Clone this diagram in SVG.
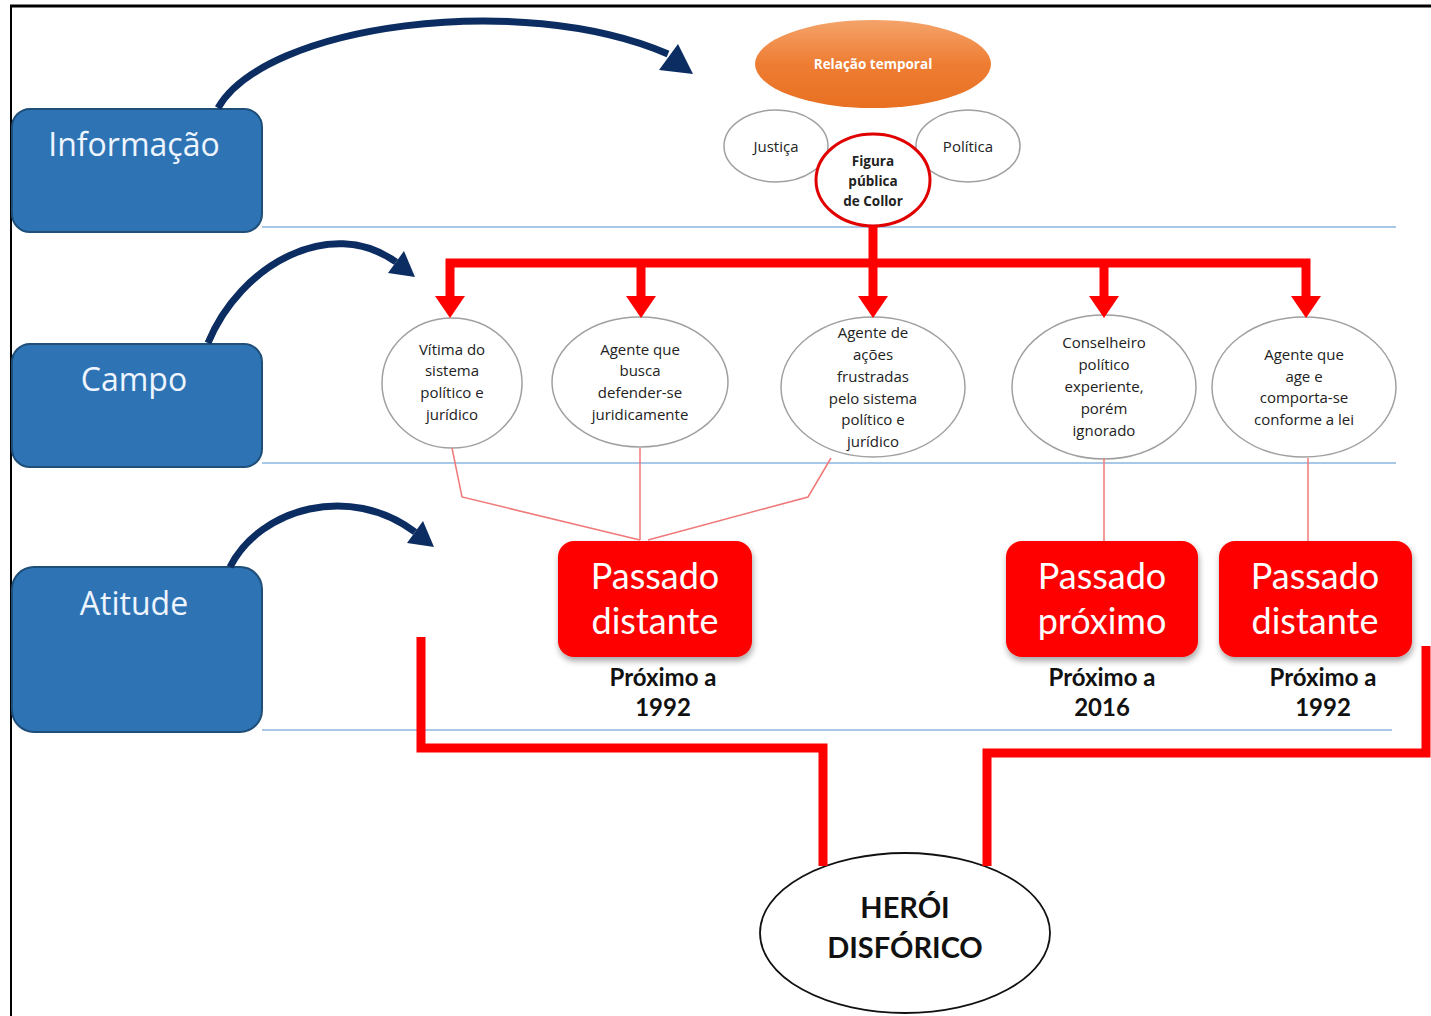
<svg xmlns="http://www.w3.org/2000/svg" width="1431" height="1016" viewBox="0 0 1431 1016">
<defs>
<style>
.lvl{fill:#2e74b5;stroke:#1f4e79;stroke-width:2}
.lvlt{font-family:"Open Sans",Lato,sans-serif;font-size:32px;fill:#eef5ff;text-anchor:middle}
.sep{stroke:#a9c8e8;stroke-width:2;fill:none}
.ell{fill:#fff;stroke:#a0a0a0;stroke-width:1.5}
.et{font-family:"Open Sans",Lato,sans-serif;font-size:15px;fill:#222;text-anchor:middle}
.thin{stroke:#f07878;stroke-width:1.5;fill:none}
.thick{stroke:#ff0000;stroke-width:9;fill:none;stroke-linejoin:miter}
.rbox{fill:#ff0000}
.rt{font-family:Lato,"Open Sans",sans-serif;font-size:36px;fill:#fff;text-anchor:middle}
.lab{font-family:Lato,"Open Sans",sans-serif;font-size:24px;font-weight:bold;fill:#111;text-anchor:middle}
.blue{fill:#0c2d62}
.bstroke{stroke:#0c2d62;stroke-width:7;fill:none;stroke-linecap:butt}
.rhead{fill:#ff0000}
</style>
<linearGradient id="og" x1="0" y1="0" x2="0" y2="1">
<stop offset="0" stop-color="#f4a36a"/>
<stop offset="0.5" stop-color="#ee7d33"/>
<stop offset="1" stop-color="#e87022"/>
</linearGradient>
<filter id="sh" x="-10%" y="-10%" width="130%" height="130%">
<feDropShadow dx="1" dy="4" stdDeviation="3" flood-color="#000" flood-opacity="0.35"/>
</filter>
</defs>
<rect width="1431" height="1016" fill="#fff"/>
<!-- frame -->
<line x1="10" y1="6" x2="1431" y2="6" stroke="#000" stroke-width="3"/>
<line x1="11" y1="5" x2="11" y2="1016" stroke="#000" stroke-width="2"/>

<!-- separators -->
<g id="separators">
<line class="sep" x1="262" y1="227" x2="1396" y2="227"/>
<line class="sep" x1="262" y1="463" x2="1396" y2="463"/>
<line class="sep" x1="262" y1="730" x2="1392" y2="730"/>
</g>

<!-- level boxes -->
<g id="informacao"><rect class="lvl" x="12" y="109" width="250" height="123" rx="18"/><text class="lvlt" x="134" y="156">Informação</text></g>
<g id="campo"><rect class="lvl" x="12" y="344" width="250" height="123" rx="18"/><text class="lvlt" x="134" y="391">Campo</text></g>
<g id="atitude"><rect class="lvl" x="12" y="567" width="250" height="165" rx="22"/><text class="lvlt" x="134" y="615">Atitude</text></g>

<!-- top nodes -->
<g id="relacao"><ellipse cx="873" cy="64" rx="118" ry="44" fill="url(#og)"/><text x="873" y="69" font-family="'Open Sans',Lato,sans-serif" font-size="13.5" font-weight="bold" fill="#fff" text-anchor="middle">Relação temporal</text></g>
<g id="justica"><ellipse class="ell" cx="776" cy="146" rx="52" ry="36"/><text class="et" x="776" y="152">Justiça</text></g>
<g id="politica"><ellipse class="ell" cx="968" cy="146" rx="52" ry="36"/><text class="et" x="968" y="152">Política</text></g>
<g id="figura"><ellipse cx="873" cy="180" rx="57" ry="46" fill="#fff" stroke="#e00000" stroke-width="3"/>
<text x="873" y="166" font-family="'Open Sans',Lato,sans-serif" font-size="13.5" font-weight="bold" fill="#222" text-anchor="middle">Figura</text>
<text x="873" y="186" font-family="'Open Sans',Lato,sans-serif" font-size="13.5" font-weight="bold" fill="#222" text-anchor="middle">pública</text>
<text x="873" y="206" font-family="'Open Sans',Lato,sans-serif" font-size="13.5" font-weight="bold" fill="#222" text-anchor="middle">de Collor</text></g>

<!-- field nodes -->
<g id="vitima"><ellipse class="ell" cx="452" cy="383" rx="70" ry="65"/>
<text class="et" x="452" y="355">Vítima do</text><text class="et" x="452" y="376">sistema</text><text class="et" x="452" y="398">político e</text><text class="et" x="452" y="420">jurídico</text></g>
<g id="agente-busca"><ellipse class="ell" cx="640" cy="382" rx="88" ry="65"/>
<text class="et" x="640" y="355">Agente que</text><text class="et" x="640" y="376">busca</text><text class="et" x="640" y="398">defender-se</text><text class="et" x="640" y="420">juridicamente</text></g>
<g id="agente-acoes"><ellipse class="ell" cx="873" cy="387" rx="92" ry="70"/>
<text class="et" x="873" y="338">Agente de</text><text class="et" x="873" y="360">ações</text><text class="et" x="873" y="382">frustradas</text><text class="et" x="873" y="404">pelo sistema</text><text class="et" x="873" y="425">político e</text><text class="et" x="873" y="447">jurídico</text></g>
<g id="conselheiro"><ellipse class="ell" cx="1104" cy="387" rx="92" ry="72"/>
<text class="et" x="1104" y="348">Conselheiro</text><text class="et" x="1104" y="370">político</text><text class="et" x="1104" y="392">experiente,</text><text class="et" x="1104" y="414">porém</text><text class="et" x="1104" y="436">ignorado</text></g>
<g id="agente-lei"><ellipse class="ell" cx="1304" cy="387" rx="92" ry="70"/>
<text class="et" x="1304" y="360">Agente que</text><text class="et" x="1304" y="382">age e</text><text class="et" x="1304" y="403">comporta-se</text><text class="et" x="1304" y="425">conforme a lei</text></g>

<!-- attitude boxes -->
<g id="passado-distante-1"><rect class="rbox" x="558" y="541" width="194" height="116" rx="16" filter="url(#sh)"/><text class="rt" x="655" y="589">Passado</text><text class="rt" x="655" y="634">distante</text></g>
<g id="passado-proximo"><rect class="rbox" x="1006" y="541" width="192" height="116" rx="16" filter="url(#sh)"/><text class="rt" x="1102" y="589">Passado</text><text class="rt" x="1102" y="634">próximo</text></g>
<g id="passado-distante-2"><rect class="rbox" x="1219" y="541" width="193" height="116" rx="16" filter="url(#sh)"/><text class="rt" x="1315" y="589">Passado</text><text class="rt" x="1315" y="634">distante</text></g>

<g id="labels">
<text class="lab" x="663" y="686">Próximo a</text><text class="lab" x="663" y="716">1992</text>
<text class="lab" x="1102" y="686">Próximo a</text><text class="lab" x="1102" y="716">2016</text>
<text class="lab" x="1323" y="686">Próximo a</text><text class="lab" x="1323" y="716">1992</text>
</g>

<g id="heroi"><ellipse cx="905" cy="933" rx="145" ry="80" fill="#fff" stroke="#111" stroke-width="1.8"/>
<text x="905" y="918" font-family="Lato,'Open Sans',sans-serif" font-size="29" font-weight="bold" fill="#111" text-anchor="middle">HERÓI</text>
<text x="905" y="958" font-family="Lato,'Open Sans',sans-serif" font-size="29" font-weight="bold" fill="#111" text-anchor="middle">DISFÓRICO</text></g>

<!-- connectors -->
<g id="connectors">
<!-- blue curved arrows -->
<path class="bstroke" d="M 218 108 C 265 25, 520 -10, 668 54"/>
<polygon class="blue" points="678,44 693,74 659,70"/>
<path class="bstroke" d="M 208 343 C 240 265, 330 215, 396 262"/>
<polygon class="blue" points="404,251 415,277 388,273"/>
<path class="bstroke" d="M 230 567 C 260 508, 350 483, 415 532"/>
<polygon class="blue" points="423,521 434,547 407,543"/>

<!-- red tree -->
<path class="thick" d="M 873 226 L 873 300"/>
<path class="thick" d="M 450 300 L 450 263 L 1306 263 L 1306 300"/>
<path class="thick" d="M 641 263 L 641 300 M 1104 263 L 1104 300"/>
<polygon class="rhead" points="435,296 465,296 450,318"/>
<polygon class="rhead" points="626,296 656,296 641,318"/>
<polygon class="rhead" points="858,296 888,296 873,318"/>
<polygon class="rhead" points="1089,296 1119,296 1104,318"/>
<polygon class="rhead" points="1291,296 1321,296 1306,318"/>

<!-- thin links -->
<polyline class="thin" points="452,448 462,497 640,540"/>
<line class="thin" x1="640" y1="448" x2="640" y2="540"/>
<polyline class="thin" points="831,458 808,497 648,540"/>
<line class="thin" x1="1104" y1="458" x2="1104" y2="541"/>
<line class="thin" x1="1308" y1="458" x2="1308" y2="541"/>

<!-- bottom thick links -->
<path class="thick" d="M 421 637 L 421 748 L 823 748 L 823 866"/>
<path class="thick" d="M 1426 646 L 1426 753 L 987 753 L 987 866"/>
</g>
</svg>
